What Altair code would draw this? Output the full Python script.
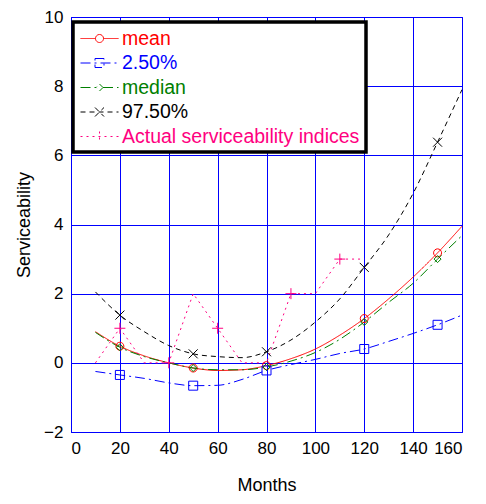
import altair as alt
import pandas as pd

# ---- data ----
series_names = ["mean", "2.50%", "median", "97.50%", "Actual serviceability indices"]
series_colors = ["#FF0000", "#0000FF", "#008000", "#000000", "#FF0080"]

months = [10, 20, 30, 40, 50, 60, 70, 80, 90, 100, 110, 120, 130, 140, 150, 160]
mean_vals = [0.90, 0.48, 0.20, 0.00, -0.15, -0.22, -0.20, -0.08, 0.12, 0.40, 0.80, 1.28, 1.85, 2.48, 3.18, 3.95]
p025_vals = [-0.25, -0.35, -0.45, -0.58, -0.66, -0.65, -0.48, -0.22, -0.05, 0.10, 0.27, 0.40, 0.62, 0.85, 1.10, 1.38]
median_vals = [0.88, 0.45, 0.18, 0.00, -0.15, -0.20, -0.20, -0.12, 0.05, 0.30, 0.68, 1.18, 1.75, 2.30, 3.00, 3.68]
p975_vals = [2.05, 1.38, 0.90, 0.50, 0.26, 0.18, 0.15, 0.32, 0.66, 1.18, 1.85, 2.76, 3.70, 4.90, 6.38, 7.90]

actual_months = [10, 20, 30, 40, 50, 60, 70, 80, 90, 100, 110, 120]
actual_vals = [0, 1, 0, 0, 2, 1, 0, 0, 2, 2, 3, 3]

marker_months = [20, 50, 80, 120, 150]
actual_marker_months = [20, 40, 60, 90, 110]

x_ticks = [0, 20, 40, 60, 80, 100, 120, 140, 160]
y_ticks = [-2, 0, 2, 4, 6, 8, 10]

# ---- styles ----
dash_styles = [[1, 0], [10, 4, 2, 4], [10, 4, 2, 4], [5, 4], [2, 4]]
marker_paths = [
    "M0.8,0A0.8,0.8 0 1,1 -0.8,0A0.8,0.8 0 1,1 0.8,0Z",
    "M-0.9,-0.9H0.9V0.9H-0.9Z",
    "M0,-0.7L0.7,0L0,0.7L-0.7,0Z",
    "M-0.9,-0.9L0.9,0.9M-0.9,0.9L0.9,-0.9",
    "M-1.1,0H1.1M0,-1.1V1.1",
]
legend_paths = [
    "M-1.9,0H-0.4M0.4,0H1.9M0.4,0A0.4,0.4 0 1,1 -0.4,0A0.4,0.4 0 1,1 0.4,0Z",
    "M-1.9,0H1.9M-0.45,-0.45H0.45V0.45H-0.45Z",
    "M-1.9,0H-0.35M0.35,0H1.9M0,-0.35L0.35,0L0,0.35L-0.35,0Z",
    "M-1.9,0H1.9M-0.45,-0.45L0.45,0.45M-0.45,0.45L0.45,-0.45",
    "M-1.9,0H1.9M0,-0.5V0.5",
]

rows = []
for name, vals in zip(series_names[:4], [mean_vals, p025_vals, median_vals, p975_vals]):
    for m, v in zip(months, vals):
        rows.append({"series": name, "month": m, "value": v})
df_quant = pd.DataFrame(rows)
df_actual = pd.DataFrame({"series": series_names[4], "month": actual_months, "value": actual_vals})

df_mark_q = df_quant[df_quant["month"].isin(marker_months)]
df_mark_a = df_actual[df_actual["month"].isin(actual_marker_months)]
df_marks = pd.concat([df_mark_q, df_mark_a], ignore_index=True)
df_legend = pd.DataFrame({"series": series_names})

FONT = "Liberation Sans"

x_enc = alt.X("month:Q", scale=alt.Scale(domain=[0, 160], nice=False),
              axis=alt.Axis(values=x_ticks, title="Months", titlePadding=20))
y_enc = alt.Y("value:Q", scale=alt.Scale(domain=[-2, 10], nice=False),
              axis=alt.Axis(values=y_ticks, title="Serviceability", titlePadding=10))
color_scale = alt.Scale(domain=series_names, range=series_colors)
dash_scale = alt.Scale(domain=series_names, range=dash_styles)

lines_q = alt.Chart(df_quant).mark_line(interpolate="monotone", strokeWidth=1).encode(
    x=x_enc, y=y_enc,
    color=alt.Color("series:N", scale=color_scale, legend=None),
    strokeDash=alt.StrokeDash("series:N", scale=dash_scale, legend=None),
)
line_a = alt.Chart(df_actual).mark_line(strokeWidth=1).encode(
    x=x_enc, y=y_enc,
    color=alt.Color("series:N", scale=color_scale, legend=None),
    strokeDash=alt.StrokeDash("series:N", scale=dash_scale, legend=None),
)
points = alt.Chart(df_marks).mark_point(filled=False, size=100, strokeWidth=1, opacity=1).encode(
    x=x_enc, y=y_enc,
    color=alt.Color("series:N", scale=color_scale, legend=None),
    shape=alt.Shape("series:N", scale=alt.Scale(domain=series_names, range=marker_paths), legend=None),
)

leg = alt.Legend(
    title=None, orient="none", legendX=2, legendY=5,
    padding=6, fillColor="white", strokeColor="black",
    labelFontSize=19.5, labelFont=FONT, labelLimit=400,
    labelExpr="datum.label == 'mean' ? '\u00a0' + datum.label : datum.label",
    symbolSize=400, symbolStrokeWidth=1, symbolOffset=10,
    labelColor=alt.ExprRef(expr="scale('color', datum.value)"),
    symbolStrokeColor=alt.ExprRef(expr="scale('color', datum.value)"),
    symbolDash=alt.ExprRef(expr="scale('strokeDash', datum.value)"),
    rowPadding=4.5, labelOffset=12,
)
legend_layer = alt.Chart(df_legend).transform_filter("false").mark_point(
    filled=False, size=400, strokeWidth=1, opacity=1).encode(
    color=alt.Color("series:N", scale=color_scale, legend=leg),
    strokeDash=alt.StrokeDash("series:N", scale=dash_scale, legend=leg),
    shape=alt.Shape("series:N", scale=alt.Scale(domain=series_names, range=legend_paths), legend=leg),
)

chart = alt.layer(lines_q, line_a, points, legend_layer).resolve_scale(
    shape="independent"
).properties(
    width=391, height=415,
    autosize=alt.AutoSizeParams(type="none"),
    padding={"left": 71, "top": 17, "right": 24, "bottom": 72},
).configure_view(
    stroke="#0000FF", strokeWidth=1
).configure_axis(
    domainColor="#0000FF", gridColor="#0000FF", gridOpacity=1, gridWidth=1,
    ticks=False, labelPadding=8, labelColor="black", titleColor="black",
    labelFont=FONT, titleFont=FONT, labelFontSize=17, titleFontSize=18,
    titleFontWeight="normal",
).configure_legend(
    strokeWidth=3.5
)

chart.save("out.html", embed_options={"renderer": "svg", "actions": False})
